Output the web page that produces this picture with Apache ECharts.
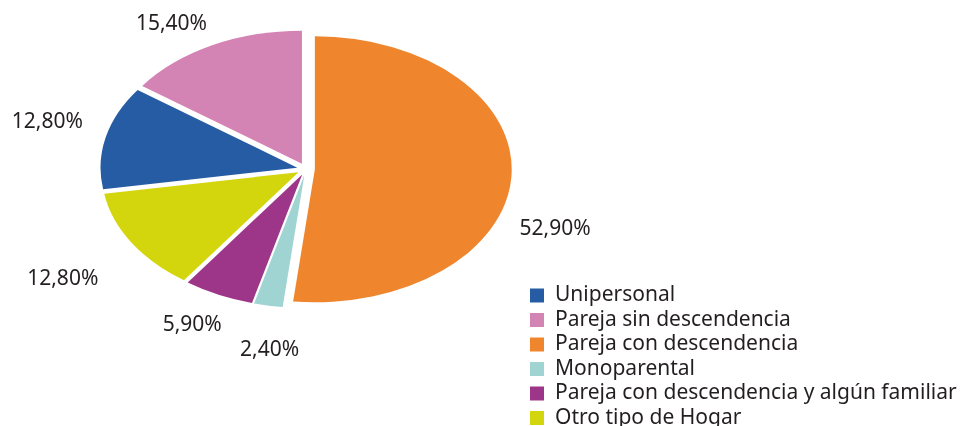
<!DOCTYPE html>
<html>
<head>
<meta charset="utf-8">
<script src="https://cdn.jsdelivr.net/npm/echarts@6/dist/echarts.min.js"></script>
<style>
  html, body { margin: 0; padding: 0; background: #fff; overflow: hidden; }
  #wrap { position: relative; width: 965px; height: 426px; overflow: hidden; }
  #pie, #labels { position: absolute; left: 0; top: 0; width: 965px; height: 426px; }
  /* a little taller so the legend's last row is not wrapped into a second column */
  #labels { height: 460px; }
  /* the reference pie is an ellipse: stretch the slice layer horizontally */
  #pie { transform-origin: 306px 170px; transform: scaleX(1.48); }
</style>
</head>
<body>
<div id="wrap">
  <div id="pie"></div>
  <div id="labels"></div>
</div>
<script>
// legend order
const categories = ['Unipersonal', 'Pareja sin descendencia', 'Pareja con descendencia', 'Monoparental', 'Pareja con descendencia y algún familiar', 'Otro tipo de Hogar']
const values = [12.8, 15.4, 52.9, 2.4, 5.9, 12.8]
const colors = ['#255ca3', '#d384b4', '#ef852d', '#9fd4d3', '#9d3589', '#d3d50d']
// clockwise from 12 o'clock
const sliceOrder = [2, 3, 4, 5, 0, 1]

const CX = 306
const CY = 169
const RY = 133
const K = 1.48

// hand nudges so the labels sit where the original placed them (px, after stretching)
const labelNudge = {
  'Pareja con descendencia': [-14, 52],
  'Monoparental': [41, 35],
  'Pareja con descendencia y algún familiar': [17, 21],
  'Otro tipo de Hogar': [-13, 31],
  'Unipersonal': [-1, -13],
  'Pareja sin descendencia': [9, -12],
}

const fmt = v => v.toFixed(2).replace('.', ',') + '%'

const pie = echarts.init(document.getElementById('pie'), null, { renderer: 'svg' })
pie.setOption({
  animation: false,
  series: [{
    type: 'pie',
    center: [CX, CY],
    radius: RY,
    startAngle: 90,
    clockwise: true,
    selectedMode: 'multiple',
    selectedOffset: 6,
    label: { show: false },
    labelLine: { show: false },
    emphasis: { disabled: true },
    data: sliceOrder.map(i => ({
      name: categories[i],
      value: values[i],
      selected: true,
      itemStyle: { color: colors[i] },
    })),
  }],
})

const chart = echarts.init(document.getElementById('labels'))
chart.setOption({
  animation: false,
  textStyle: { fontFamily: 'Noto Sans' },
  legend: {
    orient: 'vertical',
    left: 530,
    top: 285,
    padding: 0,
    itemWidth: 14,
    itemHeight: 14,
    itemGap: 3.5,
    icon: 'rect',
    textStyle: { fontFamily: 'Noto Sans', fontSize: 21, lineHeight: 20, color: '#231f20', padding: [0, 0, 0, 6] },
    data: categories.map((name, i) => ({ name, itemStyle: { color: colors[i], opacity: 1 } })),
  },
  series: [{
    type: 'pie',
    center: [CX, CY],
    radius: RY,
    startAngle: 90,
    clockwise: true,
    silent: true,
    avoidLabelOverlap: false,
    label: {
      show: true,
      position: 'outside',
      formatter: p => fmt(p.value),
      fontFamily: 'Noto Sans',
      fontSize: 21,
      color: '#231f20',
    },
    labelLine: { show: false, length: 16, length2: 0 },
    labelLayout: p => {
      const r = p.labelRect
      const right = r.x + r.width / 2 > CX
      const ax = right ? r.x : r.x + r.width
      const n = labelNudge[categories[sliceOrder[p.dataIndex]]] || [0, 0]
      return { dx: (ax - CX) * (K - 1) + n[0], dy: n[1] }
    },
    data: sliceOrder.map(i => ({
      name: categories[i],
      value: values[i],
      itemStyle: { color: 'rgba(0,0,0,0)' },
    })),
  }],
})
</script>
</body>
</html>
